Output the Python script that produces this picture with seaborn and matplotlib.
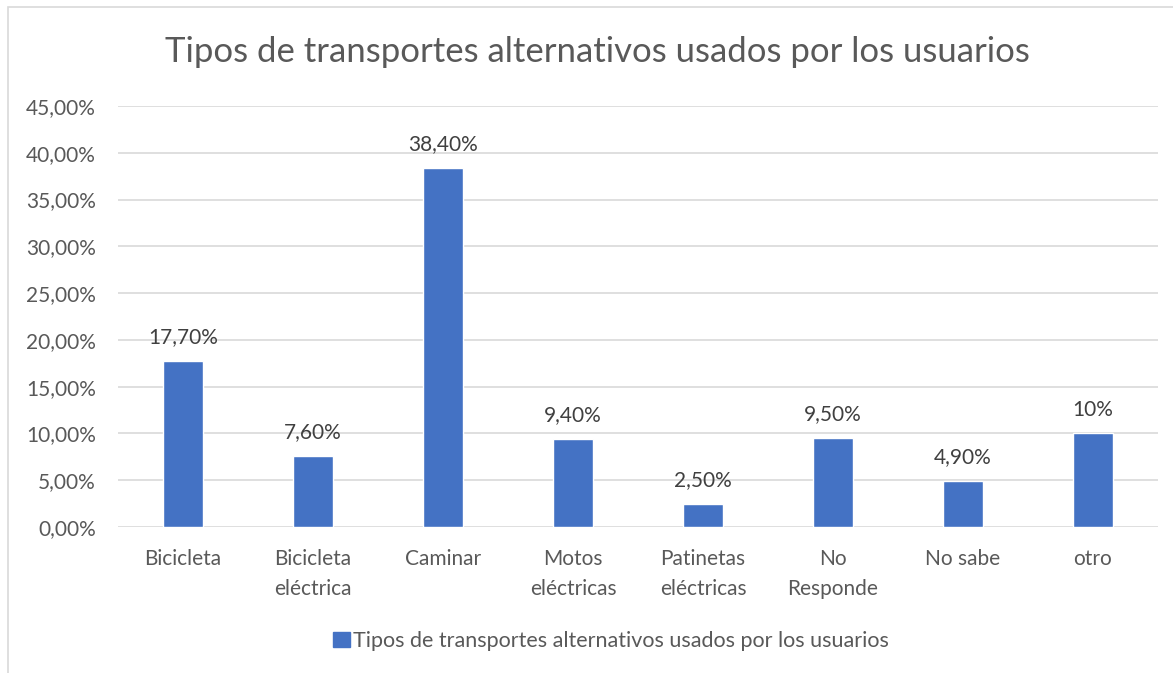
import matplotlib.pyplot as plt
import pandas as pd
import seaborn as sns
from matplotlib.patches import Rectangle

categorias = ["Bicicleta", "Bicicleta\neléctrica", "Caminar", "Motos\neléctricas",
              "Patinetas\neléctricas", "No\nResponde", "No sabe", "otro"]
porcentajes = [0.177, 0.076, 0.384, 0.094, 0.025, 0.095, 0.049, 0.10]
etiquetas = ["17,70%", "7,60%", "38,40%", "9,40%", "2,50%", "9,50%", "4,90%", "10%"]
yticks = [0.0, 0.05, 0.10, 0.15, 0.20, 0.25, 0.30, 0.35, 0.40, 0.45]
serie = "Tipos de transportes alternativos usados por los usuarios"

TEXT = "#595959"
BLUE = "#4472C4"

sns.set_theme(style="white")
plt.rcParams["font.family"] = ["Lato", "DejaVu Sans"]

df = pd.DataFrame({"categoria": categorias, "valor": porcentajes})

fig = plt.figure(figsize=(11.73, 6.73), dpi=100)
ax = fig.add_axes([118 / 1173, 1 - 527 / 673, 1040 / 1173, 421 / 673])

sns.barplot(data=df, x="categoria", y="valor", color=BLUE, saturation=1,
            width=0.315, ax=ax, zorder=3)

ax.set_ylim(0, 0.45)
ax.set_yticks(yticks)
ax.set_yticklabels([f"{v * 100:.2f}%".replace(".", ",") for v in yticks])
ax.set_xlim(-0.5, len(categorias) - 0.5)
ax.grid(axis="y", color="#D9D9D9", linewidth=1.2, zorder=0)
for s in ax.spines.values():
    s.set_visible(False)
ax.set_xlabel("")
ax.set_ylabel("")
ax.tick_params(axis="both", length=0, labelsize=15, labelcolor=TEXT)
ax.tick_params(axis="y", pad=16)
ax.tick_params(axis="x", pad=16)
for t in ax.get_xticklabels():
    t.set_linespacing(1.6)

for p, lab in zip(ax.patches, etiquetas):
    ax.annotate(lab, (p.get_x() + p.get_width() / 2, p.get_height()),
                xytext=(0, 10), textcoords="offset points", ha="center", va="bottom",
                fontsize=15, color="#404040")

fig.text(597 / 1173, 1 - 52 / 673, serie, ha="center", va="center",
         fontsize=25, color=TEXT)

handle = Rectangle((0, 0), 1, 1, color=BLUE)
leg = fig.legend([handle], [serie], loc="center", bbox_to_anchor=(611 / 1173, 1 - 641 / 673),
                 frameon=False, fontsize=15.5, handlelength=0.75, handleheight=0.75,
                 handletextpad=0.15)
for t in leg.get_texts():
    t.set_color(TEXT)

# chart area border (partially cropped in the reference)
fig.patches.append(Rectangle((8 / 1173, -0.1), 1.2, 1 - 7 / 673 + 0.1,
                             transform=fig.transFigure, fill=False,
                             edgecolor="#D9D9D9", linewidth=1.2))

fig.savefig("out.png", dpi=100)
